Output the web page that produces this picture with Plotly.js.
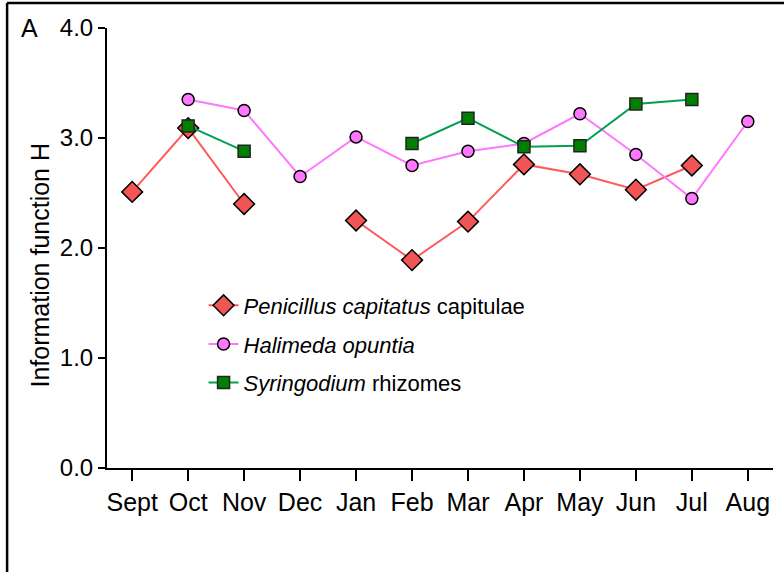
<!DOCTYPE html>
<html>
<head>
<meta charset="utf-8">
<script src="https://cdn.plot.ly/plotly-3.0.1.min.js"></script>
<style>html,body{margin:0;padding:0;background:#fff;}#chart{width:784px;height:572px;}</style>
</head>
<body>
<div id="chart"></div>
<script>
const months = ["Sept","Oct","Nov","Dec","Jan","Feb","Mar","Apr","May","Jun","Jul","Aug"];
const penicillus = [2.51, 3.09, 2.40, null, 2.25, 1.89, 2.24, 2.76, 2.67, 2.53, 2.75, null];
const halimeda   = [null, 3.35, 3.25, 2.65, 3.01, 2.75, 2.88, 2.95, 3.22, 2.85, 2.45, 3.15];
const syringodium= [null, 3.11, 2.88, null, null, 2.95, 3.18, 2.92, 2.93, 3.31, 3.35, null];
const yTicks = [0, 1, 2, 3, 4];
const yTickText = ["0.0", "1.0", "2.0", "3.0", "4.0"];
const names = ["<i>Penicillus capitatus</i> capitulae", "<i>Halimeda opuntia</i>", "<i>Syringodium</i> rhizomes"];

const traces = [
  {x: months, y: penicillus, name: names[0], type: "scatter", mode: "lines+markers", connectgaps: false, legendgroup: "a",
   line: {color: "#ff5a5a", width: 2}, marker: {symbol: "diamond", size: 16, color: "#f25555", line: {color: "#000", width: 1.5}}},
  {x: months, y: halimeda, name: names[1], type: "scatter", mode: "lines+markers", connectgaps: false, legendgroup: "b",
   line: {color: "#ff77ff", width: 2}, marker: {symbol: "circle", size: 12, color: "#ff77ff", line: {color: "#000", width: 1.5}}},
  {x: months, y: syringodium, name: names[2], type: "scatter", mode: "lines+markers", connectgaps: false, legendgroup: "c",
   line: {color: "#00a050", width: 2}, marker: {symbol: "square", size: 12, color: "#008000", line: {color: "#222", width: 1.5}}}
];

const layout = {
  width: 784, height: 572,
  margin: {l: 107, r: 11, t: 28, b: 104},
  paper_bgcolor: "#fff", plot_bgcolor: "#fff",
  font: {family: "Liberation Sans, Arial, sans-serif", color: "#000"},
  showlegend: true,
  legend: {x: 0.145, y: 0.417, xanchor: "left", yanchor: "top", bgcolor: "rgba(0,0,0,0)",
           font: {size: 22, color: "#000"}, traceorder: "grouped", tracegroupgap: 7},
  xaxis: {type: "category", categoryorder: "array", categoryarray: months, range: [-0.45, 11.45],
          showline: true, linecolor: "#000", linewidth: 2, ticks: "outside", ticklen: 11, tickwidth: 2, tickcolor: "#000",
          showgrid: false, zeroline: false, tickfont: {size: 25}, fixedrange: true},
  yaxis: {range: [0, 4], tickvals: yTicks, ticktext: yTickText, showline: true, linecolor: "#000", linewidth: 2,
          ticks: "outside", ticklen: 7, tickwidth: 2, tickcolor: "#000", showgrid: false, zeroline: false,
          tickfont: {size: 24}, fixedrange: true},
  shapes: [
    {type: "line", xref: "paper", yref: "paper", x0: -0.150, x1: -0.150, y0: -0.24, y1: 1.057, line: {color: "#000", width: 2.5}},
    {type: "line", xref: "paper", yref: "paper", x0: -0.150, x1: 1.02, y0: 1.057, y1: 1.057, line: {color: "#000", width: 2.5}}
  ],
  annotations: [
    {text: "A", xref: "paper", yref: "paper", x: -0.117, y: 1.0, xanchor: "center", yanchor: "middle", showarrow: false, font: {size: 25}},
    {text: "Information function H", xref: "paper", yref: "paper", x: -0.1, y: 0.461, xanchor: "center", yanchor: "middle",
     textangle: -90, showarrow: false, font: {size: 25}}
  ]
};

Plotly.newPlot("chart", traces, layout, {displayModeBar: false, staticPlot: true});
</script>
</body>
</html>
